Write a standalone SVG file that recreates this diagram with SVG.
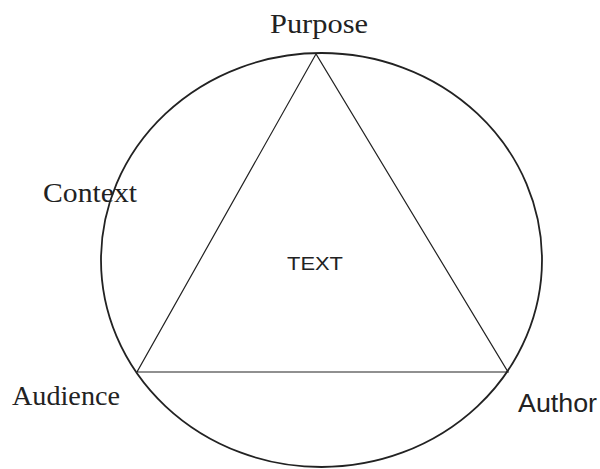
<svg xmlns="http://www.w3.org/2000/svg" width="600" height="469" viewBox="0 0 600 469">
<style>
.shape{fill:none;stroke:#222;}
.serif{font-family:"Liberation Serif","DejaVu Serif",serif;font-size:27px;fill:#222;}
.sans{font-family:"Liberation Sans","DejaVu Sans",sans-serif;fill:#222;}
</style>
<rect width="600" height="469" fill="#fff"/>
<g id="connectors">
<ellipse class="shape" stroke-width="1.8" cx="321.5" cy="260" rx="220.5" ry="207"/>
<polygon class="shape" stroke-width="1.2" points="316,54 137,372 508,372"/>
</g>
<g id="purpose"><text class="serif" x="270" y="33" textLength="98" lengthAdjust="spacingAndGlyphs">Purpose</text></g>
<g id="context"><text class="serif" x="43" y="202" textLength="94" lengthAdjust="spacingAndGlyphs">Context</text></g>
<g id="audience"><text class="serif" x="12" y="405" textLength="108" lengthAdjust="spacingAndGlyphs">Audience</text></g>
<g id="author"><text class="sans" font-size="26" x="518" y="412" textLength="79" lengthAdjust="spacingAndGlyphs">Author</text></g>
<g id="text"><text class="sans" font-size="18" x="287" y="270" textLength="56" lengthAdjust="spacingAndGlyphs">TEXT</text></g>
</svg>
